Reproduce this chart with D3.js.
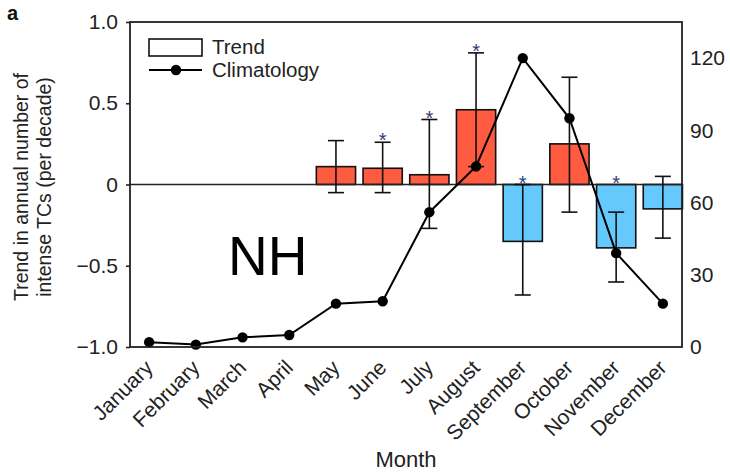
<!DOCTYPE html>
<html>
<head>
<meta charset="utf-8">
<script src="https://cdn.jsdelivr.net/npm/d3@7"></script>
<style>
  html, body { margin: 0; padding: 0; background: #fff; }
  svg { display: block; font-family: "Liberation Sans", Arial, Helvetica, sans-serif; }
</style>
</head>
<body>
<svg id="chart" width="730" height="473"></svg>
<script>
// Monthly trend in intense tropical cyclones (NH) with climatology
const months = ["January", "February", "March", "April", "May", "June",
                "July", "August", "September", "October", "November", "December"];
const trend      = [0, 0, 0, 0, 0.11, 0.10, 0.06, 0.46, -0.35, 0.25, -0.39, -0.15];
const trendLow   = [0, 0, 0, 0, -0.05, -0.05, -0.27, 0.11, -0.68, -0.17, -0.60, -0.33];
const trendHigh  = [0, 0, 0, 0, 0.27, 0.26, 0.40, 0.81, 0.00, 0.66, -0.17, 0.05];
const significant = [false, false, false, false, false, true, true, true, true, false, true, false];
const climatology = [2, 1, 4, 5, 18, 19, 56, 75, 120, 95, 39, 18];
const leftTicks  = [-1, -0.5, 0, 0.5, 1];
const leftTickLabels = ["\u22121.0", "\u22120.5", "0", "0.5", "1.0"];
const rightTicks = [0, 30, 60, 90, 120];

const svg = d3.select("#chart");
const L = 130, R = 682, T = 22, B = 347;

const x = d3.scalePoint().domain(months).range([L, R]).padding(0.41);
const yL = d3.scaleLinear().domain([-1, 1]).range([B, T]);
const yR = d3.scaleLinear().domain([0, 135]).range([B, T]);
const barW = x.step() * 0.84;

const RED = "#fe5b40", BLUE = "#66c9fd";

const rows = months.map((m, i) => ({
  m, v: trend[i], lo: trendLow[i], hi: trendHigh[i], sig: significant[i], c: climatology[i]
}));

// bars
svg.append("g").selectAll("rect").data(rows).join("rect")
  .attr("x", d => x(d.m) - barW / 2)
  .attr("y", d => yL(Math.max(0, d.v)))
  .attr("width", barW)
  .attr("height", d => Math.abs(yL(d.v) - yL(0)))
  .attr("fill", d => d.v >= 0 ? RED : BLUE)
  .attr("stroke", "#111")
  .attr("stroke-width", 1.6);

// zero line
svg.append("line")
  .attr("x1", L).attr("x2", R)
  .attr("y1", yL(0)).attr("y2", yL(0))
  .attr("stroke", "#222").attr("stroke-width", 1.6);

// error bars
const cap = 8;
const eb = svg.append("g").attr("stroke", "#111").attr("stroke-width", 1.6);
const errRows = rows.filter(d => d.lo !== d.hi);
eb.selectAll("line.v").data(errRows).join("line")
  .attr("x1", d => x(d.m)).attr("x2", d => x(d.m))
  .attr("y1", d => yL(d.lo)).attr("y2", d => yL(d.hi));
eb.selectAll("line.hi").data(errRows).join("line")
  .attr("x1", d => x(d.m) - cap).attr("x2", d => x(d.m) + cap)
  .attr("y1", d => yL(d.hi)).attr("y2", d => yL(d.hi));
eb.selectAll("line.lo").data(errRows).join("line")
  .attr("x1", d => x(d.m) - cap).attr("x2", d => x(d.m) + cap)
  .attr("y1", d => yL(d.lo)).attr("y2", d => yL(d.lo));

// significance stars, just above the upper whisker / bar edge
svg.append("g").selectAll("text").data(rows.filter(d => d.sig)).join("text")
  .attr("x", d => x(d.m))
  .attr("y", d => Math.min(yL(d.hi), yL(Math.max(0, d.v))) + 5)
  .attr("text-anchor", "middle")
  .attr("font-size", 20)
  .attr("fill", "#2f3b78")
  .text("*");

// climatology line + markers
svg.append("path").datum(rows)
  .attr("fill", "none").attr("stroke", "#000").attr("stroke-width", 2)
  .attr("d", d3.line().x(d => x(d.m)).y(d => yR(d.c)));
svg.append("g").selectAll("circle").data(rows).join("circle")
  .attr("cx", d => x(d.m)).attr("cy", d => yR(d.c)).attr("r", 5.2).attr("fill", "#000");

// frame
svg.append("rect").attr("x", L).attr("y", T).attr("width", R - L).attr("height", B - T)
  .attr("fill", "none").attr("stroke", "#222").attr("stroke-width", 1.8);

// left axis
const axL = svg.append("g").attr("transform", `translate(${L},0)`)
  .call(d3.axisLeft(yL).tickValues(leftTicks).tickSize(4).tickPadding(8)
    .tickFormat((d, i) => leftTickLabels[i]));
axL.select(".domain").remove();
axL.selectAll("text").attr("font-size", 21).attr("fill", "#222").attr("font-family", null);
axL.selectAll("line").attr("stroke", "#222").attr("stroke-width", 1.6);

// right axis
const axR = svg.append("g").attr("transform", `translate(${R},0)`)
  .call(d3.axisRight(yR).tickValues(rightTicks).tickSize(0).tickPadding(8));
axR.select(".domain").remove();
axR.selectAll("text").attr("font-size", 21).attr("fill", "#222").attr("font-family", null);

// month labels
svg.append("g").selectAll("text").data(months).join("text")
  .attr("transform", d => `translate(${x(d) + 5},369) rotate(-45)`)
  .attr("text-anchor", "end")
  .attr("font-size", 21)
  .attr("fill", "#222")
  .text(d => d);

svg.append("text").attr("x", (L + R) / 2).attr("y", 467)
  .attr("text-anchor", "middle").attr("font-size", 22).attr("fill", "#222").text("Month");

// left axis title
const yt = svg.append("g").attr("font-size", 19.5).attr("fill", "#222").attr("text-anchor", "middle");
yt.append("text").attr("transform", `translate(28,187) rotate(-90)`).text("Trend in annual number of");
yt.append("text").attr("transform", `translate(51,187) rotate(-90)`).text("intense TCs (per decade)");

// panel letter
svg.append("text").attr("x", 7).attr("y", 20).attr("font-size", 20).attr("font-weight", "bold")
  .attr("fill", "#111").text("a");

// legend
const lg = svg.append("g");
lg.append("rect").attr("x", 149).attr("y", 39).attr("width", 53).attr("height", 17)
  .attr("fill", "#fff").attr("stroke", "#111").attr("stroke-width", 1.6);
lg.append("line").attr("x1", 149).attr("x2", 202).attr("y1", 70).attr("y2", 70)
  .attr("stroke", "#000").attr("stroke-width", 2);
lg.append("circle").attr("cx", 176).attr("cy", 70).attr("r", 5.2).attr("fill", "#000");
lg.append("text").attr("x", 212).attr("y", 54).attr("font-size", 20.5).attr("fill", "#222").text("Trend");
lg.append("text").attr("x", 212).attr("y", 77).attr("font-size", 20.5).attr("fill", "#222").text("Climatology");

// region label
svg.append("text").attr("x", 228).attr("y", 275).attr("font-size", 55).attr("fill", "#000").text("NH");
</script>
</body>
</html>
